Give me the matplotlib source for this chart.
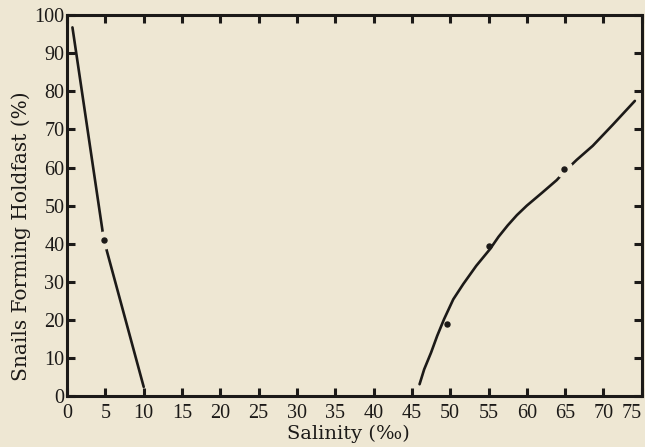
import matplotlib
matplotlib.use("Agg")
from matplotlib import pyplot as plt

# data
low_x = [0.7, 4.8, 10.0]
low_y = [96.8, 41.0, 2.4]

high_x = [46.0, 46.6, 47.5, 48.3, 49.2, 50.4, 51.7, 53.4, 55.2, 56.3, 57.5, 58.7,
          60.0, 62.0, 63.9, 64.9, 66.5, 68.6, 71.2, 74.1]
high_y = [3.1, 7.0, 11.4, 15.8, 20.2, 25.4, 29.4, 34.2, 38.6, 41.8, 44.8, 47.5,
          50.0, 53.4, 56.7, 58.9, 62.0, 65.7, 71.2, 77.5]

obs_x = [4.8, 49.6, 55.0, 64.9]
obs_y = [41.0, 18.9, 39.3, 59.5]
gap_x = [4.8, 64.9]   # observations where the drawn line is broken
gap_y = [41.0, 59.5]

x_ticks = list(range(0, 80, 5))
y_ticks = list(range(0, 110, 10))

bg = "#eee7d3"
ink = "#1c1a18"

plt.rcParams["font.family"] = ["Liberation Serif", "DejaVu Serif"]

fig = plt.figure(figsize=(6.45, 4.47), dpi=100, facecolor=bg)
ax = fig.add_axes([0.104, 0.114, 0.891, 0.852])
ax.set_facecolor(bg)

ax.plot(low_x, low_y, color=ink, lw=1.9, solid_capstyle="round", solid_joinstyle="round")
ax.plot(high_x, high_y, color=ink, lw=1.9, solid_capstyle="round", solid_joinstyle="round")
ax.plot(gap_x, gap_y, "o", ms=13, mfc=bg, mec="none", zorder=3)
ax.plot(obs_x, obs_y, "o", ms=3.6, color=ink, zorder=4)

ax.set_xlim(0, 75)
ax.set_ylim(0, 100)
ax.set_xticks(x_ticks)
ax.set_yticks(y_ticks)
ax.tick_params(direction="in", length=6, width=2.2, color=ink, labelcolor=ink,
               labelsize=14.5, top=True, right=True)
ax.tick_params(axis="x", pad=6)
ax.tick_params(axis="y", pad=2)
ax.get_xticklabels()[-1].set_ha("right")
ax.get_xticklabels()[-1].set_x(75)
for s in ax.spines.values():
    s.set_linewidth(2.2)
    s.set_color(ink)

ax.set_xlabel("Salinity (‰)", fontsize=14, color=ink, family=["DejaVu Serif"])
ax.set_ylabel("Snails Forming Holdfast (%)", fontsize=14.5, color=ink,
              family=["DejaVu Serif"])
ax.xaxis.set_label_coords(0.49, -0.075)
ax.yaxis.set_label_coords(-0.062, 0.42)

fig.savefig("out.png", dpi=100, facecolor=bg)
